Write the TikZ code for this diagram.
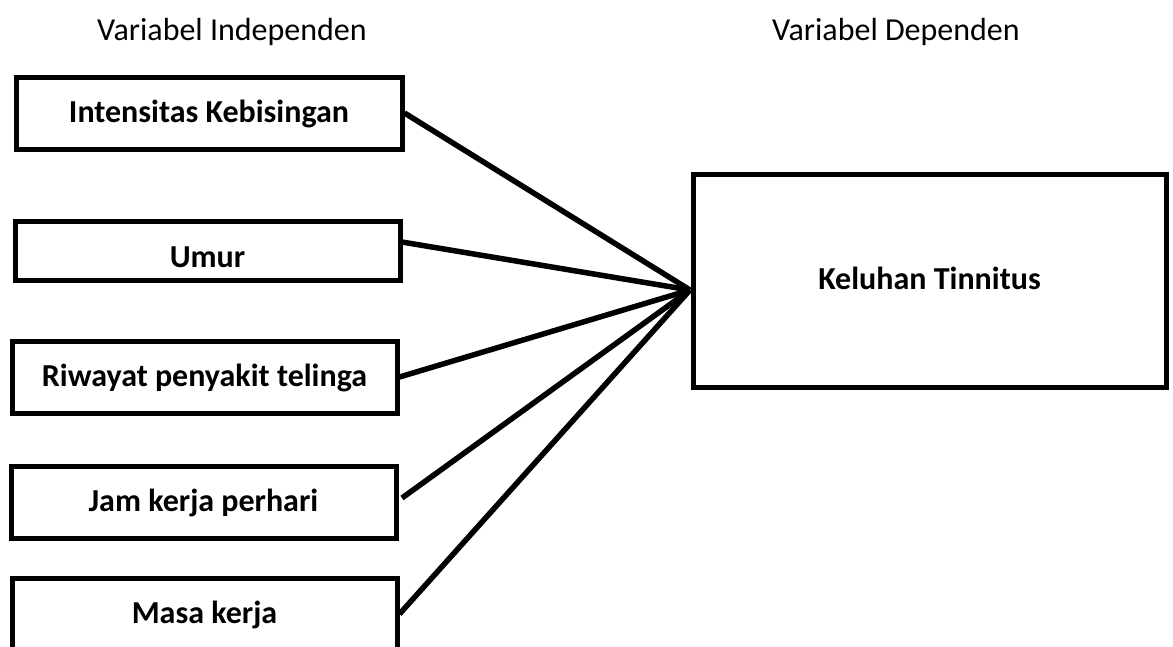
\documentclass[tikz,border=0pt]{standalone}
\usepackage{fontspec}
\setmainfont{Carlito}
\begin{document}
\begin{tikzpicture}[x=1pt,y=-1pt,
  box/.style={draw=black,line width=5pt,minimum height=72pt,inner sep=0pt,anchor=center},
  lbl/.style={font=\fontsize{32}{38}\selectfont\bfseries,inner sep=0pt},
  head/.style={font=\fontsize{32}{38}\selectfont,inner sep=0pt},
  link/.style={line width=5.5pt}]
\useasboundingbox (0,0) rectangle (1173,646);
\node[head] (h1) at (232,32) {Variabel Independen};
\node[head] (h2) at (896,32) {Variabel Dependen};
\node[box,minimum width=386pt] (b1) at (209,113) {};
\node[lbl] (t1) at (209,114) {Intensitas Kebisingan};
\node[box,minimum width=385pt,minimum height=59pt] (b2) at (207.5,250.5) {};
\node[lbl] (t2) at (207.5,257) {Umur};
\node[box,minimum width=385pt] (b3) at (204.5,377) {};
\node[lbl] (t3) at (204.5,378) {Riwayat penyakit telinga};
\node[box,minimum width=385pt] (b4) at (203.5,502) {};
\node[lbl] (t4) at (203.5,503) {Jam kerja perhari};
\node[box,minimum width=385pt] (b5) at (204.5,614) {};
\node[lbl] (t5) at (204.5,615) {Masa kerja};
\node[box,minimum width=473pt,minimum height=213pt] (k) at (929.5,280.5) {};
\node[lbl] (tk) at (929.5,278) {Keluhan Tinnitus};
\coordinate (c) at (690,290);
\coordinate (s2) at (402,242);
\coordinate (s4) at (402,498);
\draw[link] (b1.east) -- (c);
\draw[link] (s2) -- (c);
\draw[link] (b3.east) -- (c);
\draw[link] (s4) -- (c);
\draw[link] (b5.east) -- (c);
\end{tikzpicture}
\end{document}
